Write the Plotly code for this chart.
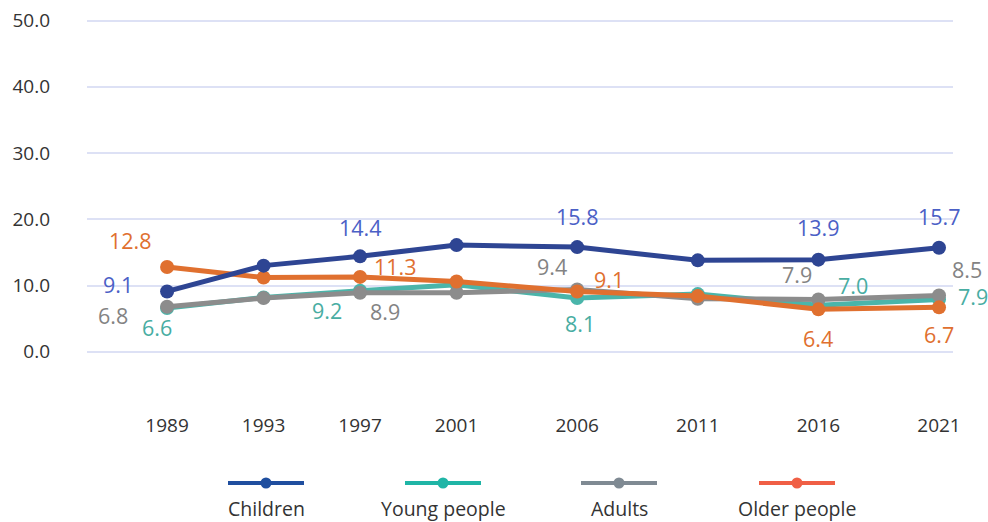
import plotly.graph_objects as go

years = [1989, 1993, 1997, 2001, 2006, 2011, 2016, 2021]
series_names = ["Children", "Young people", "Adults", "Older people"]
children = [9.1, 13.0, 14.4, 16.1, 15.8, 13.8, 13.9, 15.7]
young = [6.6, 8.2, 9.2, 10.1, 8.1, 8.7, 7.0, 7.9]
adults = [6.8, 8.1, 8.9, 8.9, 9.4, 8.0, 7.9, 8.5]
older = [12.8, 11.2, 11.3, 10.6, 9.1, 8.4, 6.4, 6.7]
y_ticks = [0, 10, 20, 30, 40, 50]

# which points carry a value label (index into years) and label offsets in px
label_children = {0: (-49, 7), 2: (0, 29), 4: (0, 31), 6: (0, 32), 7: (0, 31)}
label_young = {0: (-10, -19), 2: (-33, -20), 4: (3, -25), 6: (35, 20), 7: (34, 3)}
label_adults = {0: (-54, -9), 2: (25, -19), 4: (-25, 23), 6: (-21, 25), 7: (28, 26)}
label_older = {0: (-37, 26), 2: (35, 10), 4: (32, 12), 6: (0, -29), 7: (0, -27)}

line_colors = {"Children": "#2E4593", "Young people": "#4AB5AA",
               "Adults": "#8C8C8C", "Older people": "#E0702F"}
label_colors = {"Children": "#4B60C6", "Young people": "#48ADA2",
                "Adults": "#838383", "Older people": "#E0702F"}
legend_colors = {"Children": "#1F4E9F", "Young people": "#1FB5A6",
                 "Adults": "#7F8A93", "Older people": "#F05F45"}

data = {"Children": (children, label_children), "Young people": (young, label_young),
        "Adults": (adults, label_adults), "Older people": (older, label_older)}

FONT = "Open Sans"
fig = go.Figure()
draw_order = ["Young people", "Adults", "Older people", "Children"]
for name in draw_order:
    vals, _ = data[name]
    fig.add_trace(go.Scatter(
        x=years, y=vals, mode="lines+markers", name=name,
        line=dict(color=line_colors[name], width=5),
        marker=dict(color=line_colors[name], size=14),
        showlegend=False, hoverinfo="x+y+name"))

annotations = []
for name in series_names:
    vals, labels = data[name]
    for i, (dx, dy) in labels.items():
        annotations.append(dict(
            x=years[i], y=vals[i], xref="x", yref="y",
            text=f"{vals[i]:.1f}", showarrow=False,
            xshift=dx, yshift=dy,
            font=dict(family=FONT, size=21.5, color=label_colors[name])))

# plot area in pixels
W, H = 988, 522
L, R, T, B = 87, 35, 14, 114
pw, ph = W - L - R, H - T - B


def px_to_paper(px, py):
    return (px - L) / pw, (H - B - py) / ph


shapes = []
legend_centers = [266, 443, 619, 797]
for name, cx in zip(series_names, legend_centers):
    x0, y0 = px_to_paper(cx - 38, 483)
    x1, _ = px_to_paper(cx + 38, 483)
    shapes.append(dict(type="line", xref="paper", yref="paper",
                       x0=x0, x1=x1, y0=y0, y1=y0,
                       line=dict(color=legend_colors[name], width=4)))
    mx0, my0 = px_to_paper(cx - 5.5, 477.5)
    mx1, my1 = px_to_paper(cx + 5.5, 488.5)
    shapes.append(dict(type="circle", xref="paper", yref="paper",
                       x0=mx0, x1=mx1, y0=my1, y1=my0,
                       fillcolor=legend_colors[name], line=dict(width=0)))
    tx, ty = px_to_paper(cx, 508)
    annotations.append(dict(x=tx, y=ty, xref="paper", yref="paper",
                            text=name, showarrow=False, xanchor="center",
                            yanchor="middle",
                            font=dict(family=FONT, size=19.5, color="#333333")))

fig.update_layout(
    width=W, height=H,
    margin=dict(l=L, r=R, t=T, b=B, autoexpand=False),
    paper_bgcolor="white", plot_bgcolor="white",
    font=dict(family=FONT, size=19, color="#333333"),
    showlegend=False,
    annotations=annotations,
    shapes=shapes,
    xaxis=dict(range=[1985.68, 2021.58], tickmode="array", tickvals=years,
               ticktext=[str(y) for y in years], showgrid=False,
               zeroline=False, showline=False, ticks="", automargin=False,
               ticklabelstandoff=4,
               tickfont=dict(family=FONT, size=19, color="#333333")),
    yaxis=dict(range=[-8.5, 51], tickmode="array", tickvals=y_ticks,
               ticktext=[f"{v:.1f}" for v in y_ticks],
               showgrid=True, gridcolor="#DDE1F5", gridwidth=2,
               zeroline=False, showline=False, automargin=False,
               ticks="", ticklabelstandoff=36,
               tickfont=dict(family=FONT, size=19, color="#333333")),
)

fig.write_html("out.html")
